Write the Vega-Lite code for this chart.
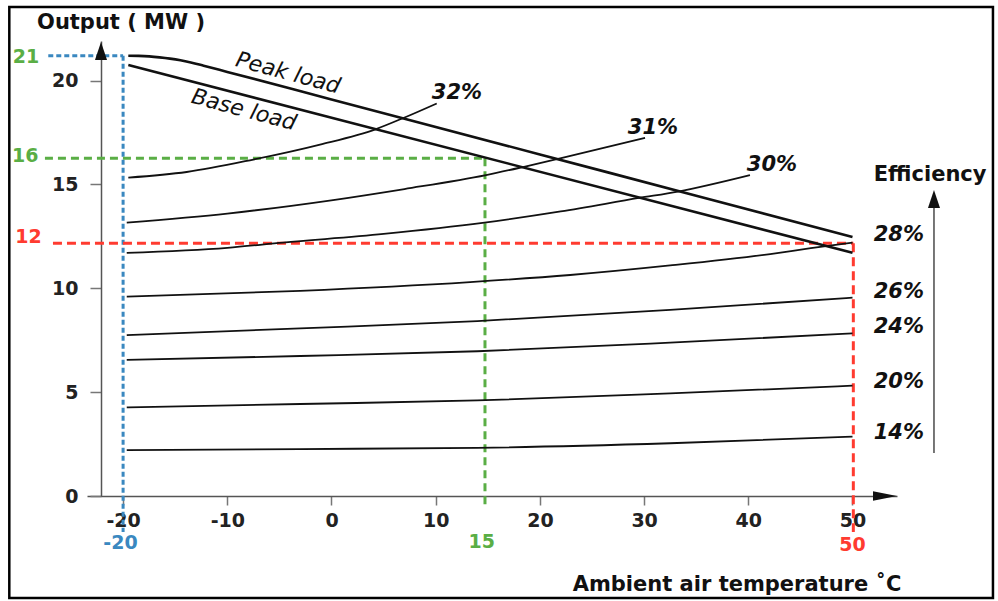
{
  "$schema": "https://vega.github.io/schema/vega-lite/v6.json",
  "width": 810,
  "height": 455,
  "autosize": "none",
  "padding": {"left": 87, "top": 41, "right": 101, "bottom": 105},
  "background": "white",
  "config": {"view": {"stroke": null}, "font": "DejaVu Sans"},
  "datasets": {
    "frame": [{"x": -30.92, "x2": 63.48, "y": 23.54, "y2": -4.91}],
    "guides": [
      {"g": "blue", "x": -27.18, "x2": -20, "y": 21.2, "y2": 21.2},
      {"g": "blue", "x": -20, "x2": -20, "y": 21.2, "y2": -1.73},
      {"g": "green", "x": -27.5, "x2": 14.73, "y": 16.26, "y2": 16.26},
      {"g": "green", "x": 14.73, "x2": 14.73, "y": 16.26, "y2": -0.53},
      {"g": "red", "x": -26.73, "x2": 50.08, "y": 12.17, "y2": 12.17},
      {"g": "red", "x": 50.08, "x2": 50.08, "y": 12.17, "y2": -1.73}
    ],
    "curves": [
      {"s": "peak", "k": "load", "x": -19.5, "y": 21.2},
      {"s": "peak", "k": "load", "x": -18.5, "y": 21.19},
      {"s": "peak", "k": "load", "x": -17.5, "y": 21.165},
      {"s": "peak", "k": "load", "x": -16.5, "y": 21.12},
      {"s": "peak", "k": "load", "x": -15.5, "y": 21.06},
      {"s": "peak", "k": "load", "x": -14.5, "y": 20.98},
      {"s": "peak", "k": "load", "x": -13.5, "y": 20.875},
      {"s": "peak", "k": "load", "x": -12.27, "y": 20.72},
      {"s": "peak", "k": "load", "x": -10, "y": 20.42},
      {"s": "peak", "k": "load", "x": 0, "y": 19.095},
      {"s": "peak", "k": "load", "x": 20, "y": 16.445},
      {"s": "peak", "k": "load", "x": 35, "y": 14.46},
      {"s": "peak", "k": "load", "x": 50, "y": 12.47},
      {"s": "base", "k": "load", "x": -19.5, "y": 20.75},
      {"s": "base", "k": "load", "x": 50, "y": 11.71},
      {"s": "e32", "k": "eff", "x": -19.5, "y": 15.33},
      {"s": "e32", "k": "eff", "x": -13.9, "y": 15.6},
      {"s": "e32", "k": "eff", "x": -7.5, "y": 16.2},
      {"s": "e32", "k": "eff", "x": -1.1, "y": 16.92},
      {"s": "e32", "k": "eff", "x": 4.34, "y": 17.68},
      {"s": "e32", "k": "eff", "x": 6.9, "y": 18.2},
      {"s": "e32", "k": "eff", "x": 10.1, "y": 18.9},
      {"s": "e31", "k": "eff", "x": -19.65, "y": 13.16},
      {"s": "e31", "k": "eff", "x": -10, "y": 13.6},
      {"s": "e31", "k": "eff", "x": 0.15, "y": 14.25},
      {"s": "e31", "k": "eff", "x": 7, "y": 14.78},
      {"s": "e31", "k": "eff", "x": 14.83, "y": 15.45},
      {"s": "e31", "k": "eff", "x": 18.38, "y": 15.84},
      {"s": "e31", "k": "eff", "x": 21.74, "y": 16.23},
      {"s": "e31", "k": "eff", "x": 30.09, "y": 17.24},
      {"s": "e30", "k": "eff", "x": -19.65, "y": 11.71},
      {"s": "e30", "k": "eff", "x": -10, "y": 11.95},
      {"s": "e30", "k": "eff", "x": -4.65, "y": 12.2},
      {"s": "e30", "k": "eff", "x": 5, "y": 12.62},
      {"s": "e30", "k": "eff", "x": 14.5, "y": 13.15},
      {"s": "e30", "k": "eff", "x": 22, "y": 13.7},
      {"s": "e30", "k": "eff", "x": 29.5, "y": 14.35},
      {"s": "e30", "k": "eff", "x": 33.25, "y": 14.66},
      {"s": "e30", "k": "eff", "x": 40.16, "y": 15.45},
      {"s": "e28", "k": "eff", "x": -19.65, "y": 9.6},
      {"s": "e28", "k": "eff", "x": -3, "y": 9.88},
      {"s": "e28", "k": "eff", "x": 13.3, "y": 10.3},
      {"s": "e28", "k": "eff", "x": 22.9, "y": 10.64},
      {"s": "e28", "k": "eff", "x": 32.5, "y": 11.1},
      {"s": "e28", "k": "eff", "x": 42.1, "y": 11.65},
      {"s": "e28", "k": "eff", "x": 46, "y": 11.93},
      {"s": "e28", "k": "eff", "x": 50, "y": 12.2},
      {"s": "e26", "k": "eff", "x": -19.65, "y": 7.75},
      {"s": "e26", "k": "eff", "x": -3, "y": 8.07},
      {"s": "e26", "k": "eff", "x": 14, "y": 8.42},
      {"s": "e26", "k": "eff", "x": 32.5, "y": 8.96},
      {"s": "e26", "k": "eff", "x": 50, "y": 9.55},
      {"s": "e24", "k": "eff", "x": -19.65, "y": 6.55},
      {"s": "e24", "k": "eff", "x": -3, "y": 6.74},
      {"s": "e24", "k": "eff", "x": 14, "y": 6.97},
      {"s": "e24", "k": "eff", "x": 32.5, "y": 7.38},
      {"s": "e24", "k": "eff", "x": 50, "y": 7.83},
      {"s": "e20", "k": "eff", "x": -19.65, "y": 4.27},
      {"s": "e20", "k": "eff", "x": -3, "y": 4.43},
      {"s": "e20", "k": "eff", "x": 14, "y": 4.6},
      {"s": "e20", "k": "eff", "x": 32.5, "y": 4.94},
      {"s": "e20", "k": "eff", "x": 50, "y": 5.31},
      {"s": "e14", "k": "eff", "x": -19.65, "y": 2.21},
      {"s": "e14", "k": "eff", "x": -3, "y": 2.26},
      {"s": "e14", "k": "eff", "x": 14, "y": 2.32},
      {"s": "e14", "k": "eff", "x": 32.5, "y": 2.54},
      {"s": "e14", "k": "eff", "x": 50, "y": 2.86}
    ],
    "effaxis": [{"x": 57.82, "y": 2.07, "y2": 14.0}],
    "uparrows": [{"x": -22.12, "y": 21.43}, {"x": 57.82, "y": 14.3}],
    "rightarrows": [{"x": 53.12, "y": 0}],
    "marks": [
      {"t": "21", "g": "green", "x": -29.32, "y": 21.16},
      {"t": "16", "g": "green", "x": -29.4, "y": 16.35},
      {"t": "12", "g": "red", "x": -29.08, "y": 12.45},
      {"t": "-20", "g": "blue", "x": -20.25, "y": -2.24},
      {"t": "15", "g": "green", "x": 14.41, "y": -2.21},
      {"t": "50", "g": "red", "x": 50, "y": -2.38}
    ],
    "pcts": [
      {"t": "32%", "x": 12.04, "y": 19.4},
      {"t": "31%", "x": 30.85, "y": 17.72},
      {"t": "30%", "x": 42.27, "y": 15.94},
      {"t": "28%", "x": 54.45, "y": 12.57},
      {"t": "26%", "x": 54.45, "y": 9.82},
      {"t": "24%", "x": 54.45, "y": 8.14},
      {"t": "20%", "x": 54.45, "y": 5.49},
      {"t": "14%", "x": 54.45, "y": 3.03}
    ],
    "loads": [
      {"t": "Peak load", "x": -4.17, "y": 20.37},
      {"t": "Base load", "x": -8.4, "y": 18.6}
    ],
    "ytitle": [{"t": "Output ( MW )", "x": -28.26, "y": 22.77}],
    "titles": [
      {"t": "Ambient air temperature ˚C", "x": 38.92, "y": -4.28},
      {"t": "Efficiency", "x": 57.45, "y": 15.46}
    ]
  },
  "encoding": {
    "x": {
      "field": "x", "type": "quantitative",
      "scale": {"domain": [-23.464, 54.271], "nice": false, "zero": false},
      "axis": {
        "title": null, "grid": false,
        "values": [-20, -10, 0, 10, 20, 30, 40, 50],
        "labelExpr": "'' + datum.value",
        "domainColor": "#555", "domainWidth": 1.5,
        "tickColor": "#777", "tickWidth": 1.5, "tickSize": 9,
        "labelFont": "DejaVu Sans", "labelFontSize": 19, "labelFontWeight": "bold",
        "labelColor": "#222", "labelPadding": 6, "labelFlush": false, "labelOverlap": false
      }
    },
    "y": {
      "field": "y", "type": "quantitative",
      "scale": {"domain": [0, 21.907], "nice": false, "zero": false},
      "axis": {
        "title": null, "grid": false, "offset": -14,
        "values": [0, 5, 10, 15, 20],
        "domainColor": "#555", "domainWidth": 1.5,
        "tickColor": "#777", "tickWidth": 1.5, "tickSize": 11,
        "labelFont": "DejaVu Sans", "labelFontSize": 19, "labelFontWeight": "bold",
        "labelColor": "#222", "labelPadding": 12, "labelFlush": false, "labelOverlap": false
      }
    }
  },
  "layer": [
    {
      "data": {"name": "frame"},
      "mark": {"type": "rect", "filled": false, "stroke": "#000", "strokeWidth": 2.5},
      "encoding": {"x2": {"field": "x2"}, "y2": {"field": "y2"}}
    },
    {
      "data": {"name": "guides"},
      "mark": {"type": "rule", "strokeWidth": 3},
      "encoding": {
        "x2": {"field": "x2"}, "y2": {"field": "y2"},
        "color": {"field": "g", "type": "nominal", "scale": {"domain": ["blue", "green", "red"], "range": ["#3a88c0", "#5aae45", "#ff3b30"]}, "legend": null},
        "strokeDash": {"field": "g", "type": "nominal", "scale": {"domain": ["blue", "green", "red"], "range": [[5, 3], [8, 5], [9, 5]]}, "legend": null}
      }
    },
    {
      "data": {"name": "curves"},
      "transform": [{"filter": "datum.k == 'eff'"}],
      "mark": {"type": "line", "color": "#111", "strokeWidth": 1.8, "interpolate": "monotone"},
      "encoding": {"detail": {"field": "s", "type": "nominal"}}
    },
    {
      "data": {"name": "curves"},
      "transform": [{"filter": "datum.k == 'load'"}],
      "mark": {"type": "line", "color": "#111", "strokeWidth": 2.6, "interpolate": "monotone"},
      "encoding": {"detail": {"field": "s", "type": "nominal"}}
    },
    {
      "data": {"name": "effaxis"},
      "mark": {"type": "rule", "color": "#555", "strokeWidth": 1.6},
      "encoding": {"y2": {"field": "y2"}}
    },
    {
      "data": {"name": "uparrows"},
      "mark": {"type": "point", "shape": "M0,-1L0.67,1L-0.67,1Z", "filled": true, "color": "#111", "opacity": 1, "size": 324},
      "encoding": {}
    },
    {
      "data": {"name": "rightarrows"},
      "mark": {"type": "point", "shape": "M1,0L-1,-0.4L-1,0.4Z", "filled": true, "color": "#111", "opacity": 1, "size": 576},
      "encoding": {}
    },
    {
      "data": {"name": "marks"},
      "mark": {"type": "text", "font": "DejaVu Sans", "fontSize": 19, "fontWeight": "bold", "align": "center", "baseline": "middle"},
      "encoding": {
        "text": {"field": "t"},
        "color": {"field": "g", "type": "nominal", "scale": {"domain": ["blue", "green", "red"], "range": ["#3a88c0", "#5aae45", "#ff3b30"]}, "legend": null}
      }
    },
    {
      "data": {"name": "pcts"},
      "mark": {"type": "text", "font": "DejaVu Sans", "fontSize": 21, "fontWeight": "bold", "fontStyle": "italic", "align": "center", "baseline": "middle", "color": "#111"},
      "encoding": {"text": {"field": "t"}}
    },
    {
      "data": {"name": "loads"},
      "mark": {"type": "text", "font": "DejaVu Sans", "fontSize": 22, "fontStyle": "italic", "fontWeight": 500, "align": "center", "baseline": "middle", "angle": 15, "color": "#111"},
      "encoding": {"text": {"field": "t"}}
    },
    {
      "data": {"name": "ytitle"},
      "mark": {"type": "text", "font": "DejaVu Sans", "fontSize": 21, "fontWeight": "bold", "align": "left", "baseline": "middle", "color": "#111"},
      "encoding": {"text": {"field": "t"}}
    },
    {
      "data": {"name": "titles"},
      "mark": {"type": "text", "font": "DejaVu Sans", "fontSize": 21, "fontWeight": "bold", "align": "center", "baseline": "middle", "color": "#111"},
      "encoding": {"text": {"field": "t"}}
    }
  ]
}
